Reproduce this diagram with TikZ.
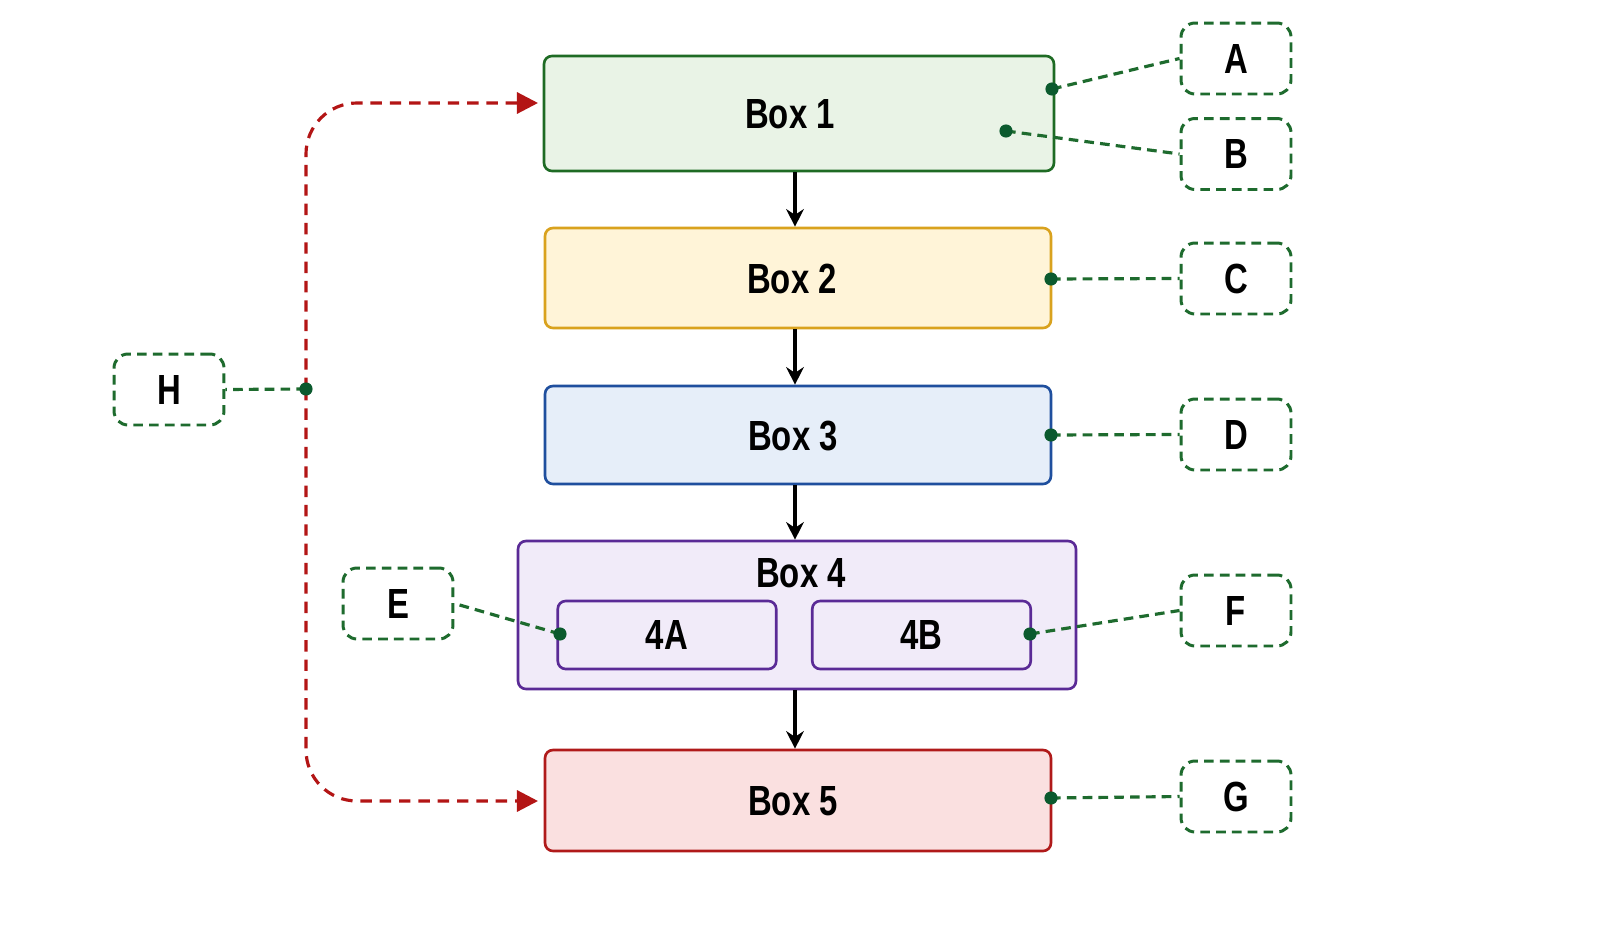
\documentclass[tikz,border=0pt]{standalone}
\usepackage{fontspec}
\setmainfont{Liberation Sans}[FakeStretch=0.78]
\usetikzlibrary{arrows.meta}
\definecolor{gdraw}{HTML}{1E6B24}
\definecolor{gfill}{HTML}{E9F3E6}
\definecolor{ydraw}{HTML}{D9A21E}
\definecolor{yfill}{HTML}{FFF4D8}
\definecolor{bdraw}{HTML}{1F4F9E}
\definecolor{bfill}{HTML}{E6EEF9}
\definecolor{pdraw}{HTML}{5A2A96}
\definecolor{pfill}{HTML}{F1EBF9}
\definecolor{rdraw}{HTML}{B01A1A}
\definecolor{rfill}{HTML}{FAE0E0}
\definecolor{ldash}{HTML}{1E6B2E}
\definecolor{dotc}{HTML}{0B5A2E}
\definecolor{reddash}{HTML}{B31515}
\tikzset{
  txt/.style={font=\fontsize{24}{27}\selectfont\bfseries, inner sep=0pt},
  boxbase/.style={rectangle, rounded corners=4.5pt, line width=1.5pt, txt},
  mainbox/.style={boxbase, minimum width=10.12cm, minimum height=2.0cm},
  subbox/.style={boxbase, draw=pdraw, fill=pfill, minimum width=4.37cm, minimum height=1.36cm},
  lbl/.style={rectangle, rounded corners=8pt, draw=ldash, fill=white, line width=1.7pt, dash pattern=on 5.5pt off 3.5pt, minimum width=2.2cm, minimum height=1.42cm, txt},
  gline/.style={draw=ldash, line width=1.8pt, dash pattern=on 5.5pt off 3.5pt},
  gdot/.style={circle, fill=dotc, inner sep=0pt, minimum size=7.5pt},
  flow/.style={line width=2pt, -{Stealth[length=10pt,width=10pt]}},
  redflow/.style={draw=reddash, line width=1.8pt, dash pattern=on 6.5pt off 4.5pt, rounded corners=1.02cm, -{Triangle[length=12pt,width=12pt,fill=reddash]}},
}
\begin{document}
\begin{tikzpicture}[x=0.02cm,y=-0.02cm]
\path[use as bounding box, fill=white] (0,0) rectangle (1600,933);
% main boxes
\node[mainbox, draw=gdraw, fill=gfill, minimum width=10.2cm, minimum height=2.3cm] (b1) at (799,113.5) {};
\node[txt] (b1t) at (790,114) {Box 1};
\node[mainbox, draw=ydraw, fill=yfill] (b2) at (798,278) {};
\node[txt] (b2t) at (792,279) {Box 2};
\node[mainbox, draw=bdraw, fill=bfill, minimum height=1.96cm] (b3) at (798,435) {};
\node[txt] (b3t) at (793,436) {Box 3};
\node[boxbase, draw=pdraw, fill=pfill, minimum width=11.16cm, minimum height=2.96cm] (b4) at (797,615) {};
\node[txt] (b4t) at (801,573) {Box 4};
\node[subbox] (b4a) at (667,635) {4A};
\node[subbox] (b4b) at (921.5,635) {4B};
\node[mainbox, draw=rdraw, fill=rfill, minimum height=2.02cm] (b5) at (798,800.5) {};
\node[txt] (b5t) at (793,801) {Box 5};
% flow arrows
\draw[flow] (b1.south -| 795,0) -- (b2.north -| 795,0);
\draw[flow] (b2.south -| 795,0) -- (b3.north -| 795,0);
\draw[flow] (b3.south -| 795,0) -- (b4.north -| 795,0);
\draw[flow] (b4.south -| 795,0) -- (b5.north -| 795,0);
% label boxes
\node[lbl] (la) at (1236,58.5) {A};
\node[lbl] (lb) at (1236,154) {B};
\node[lbl] (lc) at (1236,278.5) {C};
\node[lbl] (ld) at (1236,434.5) {D};
\node[lbl] (le) at (398,603.5) {E};
\node[lbl] (lf) at (1236,610.5) {F};
\node[lbl] (lg) at (1236,796.5) {G};
\node[lbl] (lh) at (169,389.5) {H};
% dots
\coordinate (da) at (1052,89);
\coordinate (db) at (1006,131);
\coordinate (dc) at (1051,279);
\coordinate (dd) at (1051,435);
\coordinate (de) at (560,634);
\coordinate (df) at (1030,634);
\coordinate (dg) at (1051,798);
\coordinate (dh) at (306,389);
% callout lines
\draw[gline] (da) -- (la.west);
\draw[gline] (db) -- (lb.west);
\draw[gline] (dc) -- (lc.west);
\draw[gline] (dd) -- (ld.west);
\draw[gline] (de) -- (le.east);
\draw[gline] (df) -- (lf.west);
\draw[gline] (dg) -- (lg.west);
\draw[gline] (dh) -- (lh.east);
% red dashed arrows
\coordinate (r1) at (538,103);
\coordinate (r5) at (538,801);
\draw[redflow] (dh) |- (r1);
\draw[redflow] (dh) |- (r5);
% dot marks
\foreach \d in {da,db,dc,dd,de,df,dg,dh} \node[gdot] at (\d) {};
\end{tikzpicture}
\end{document}
